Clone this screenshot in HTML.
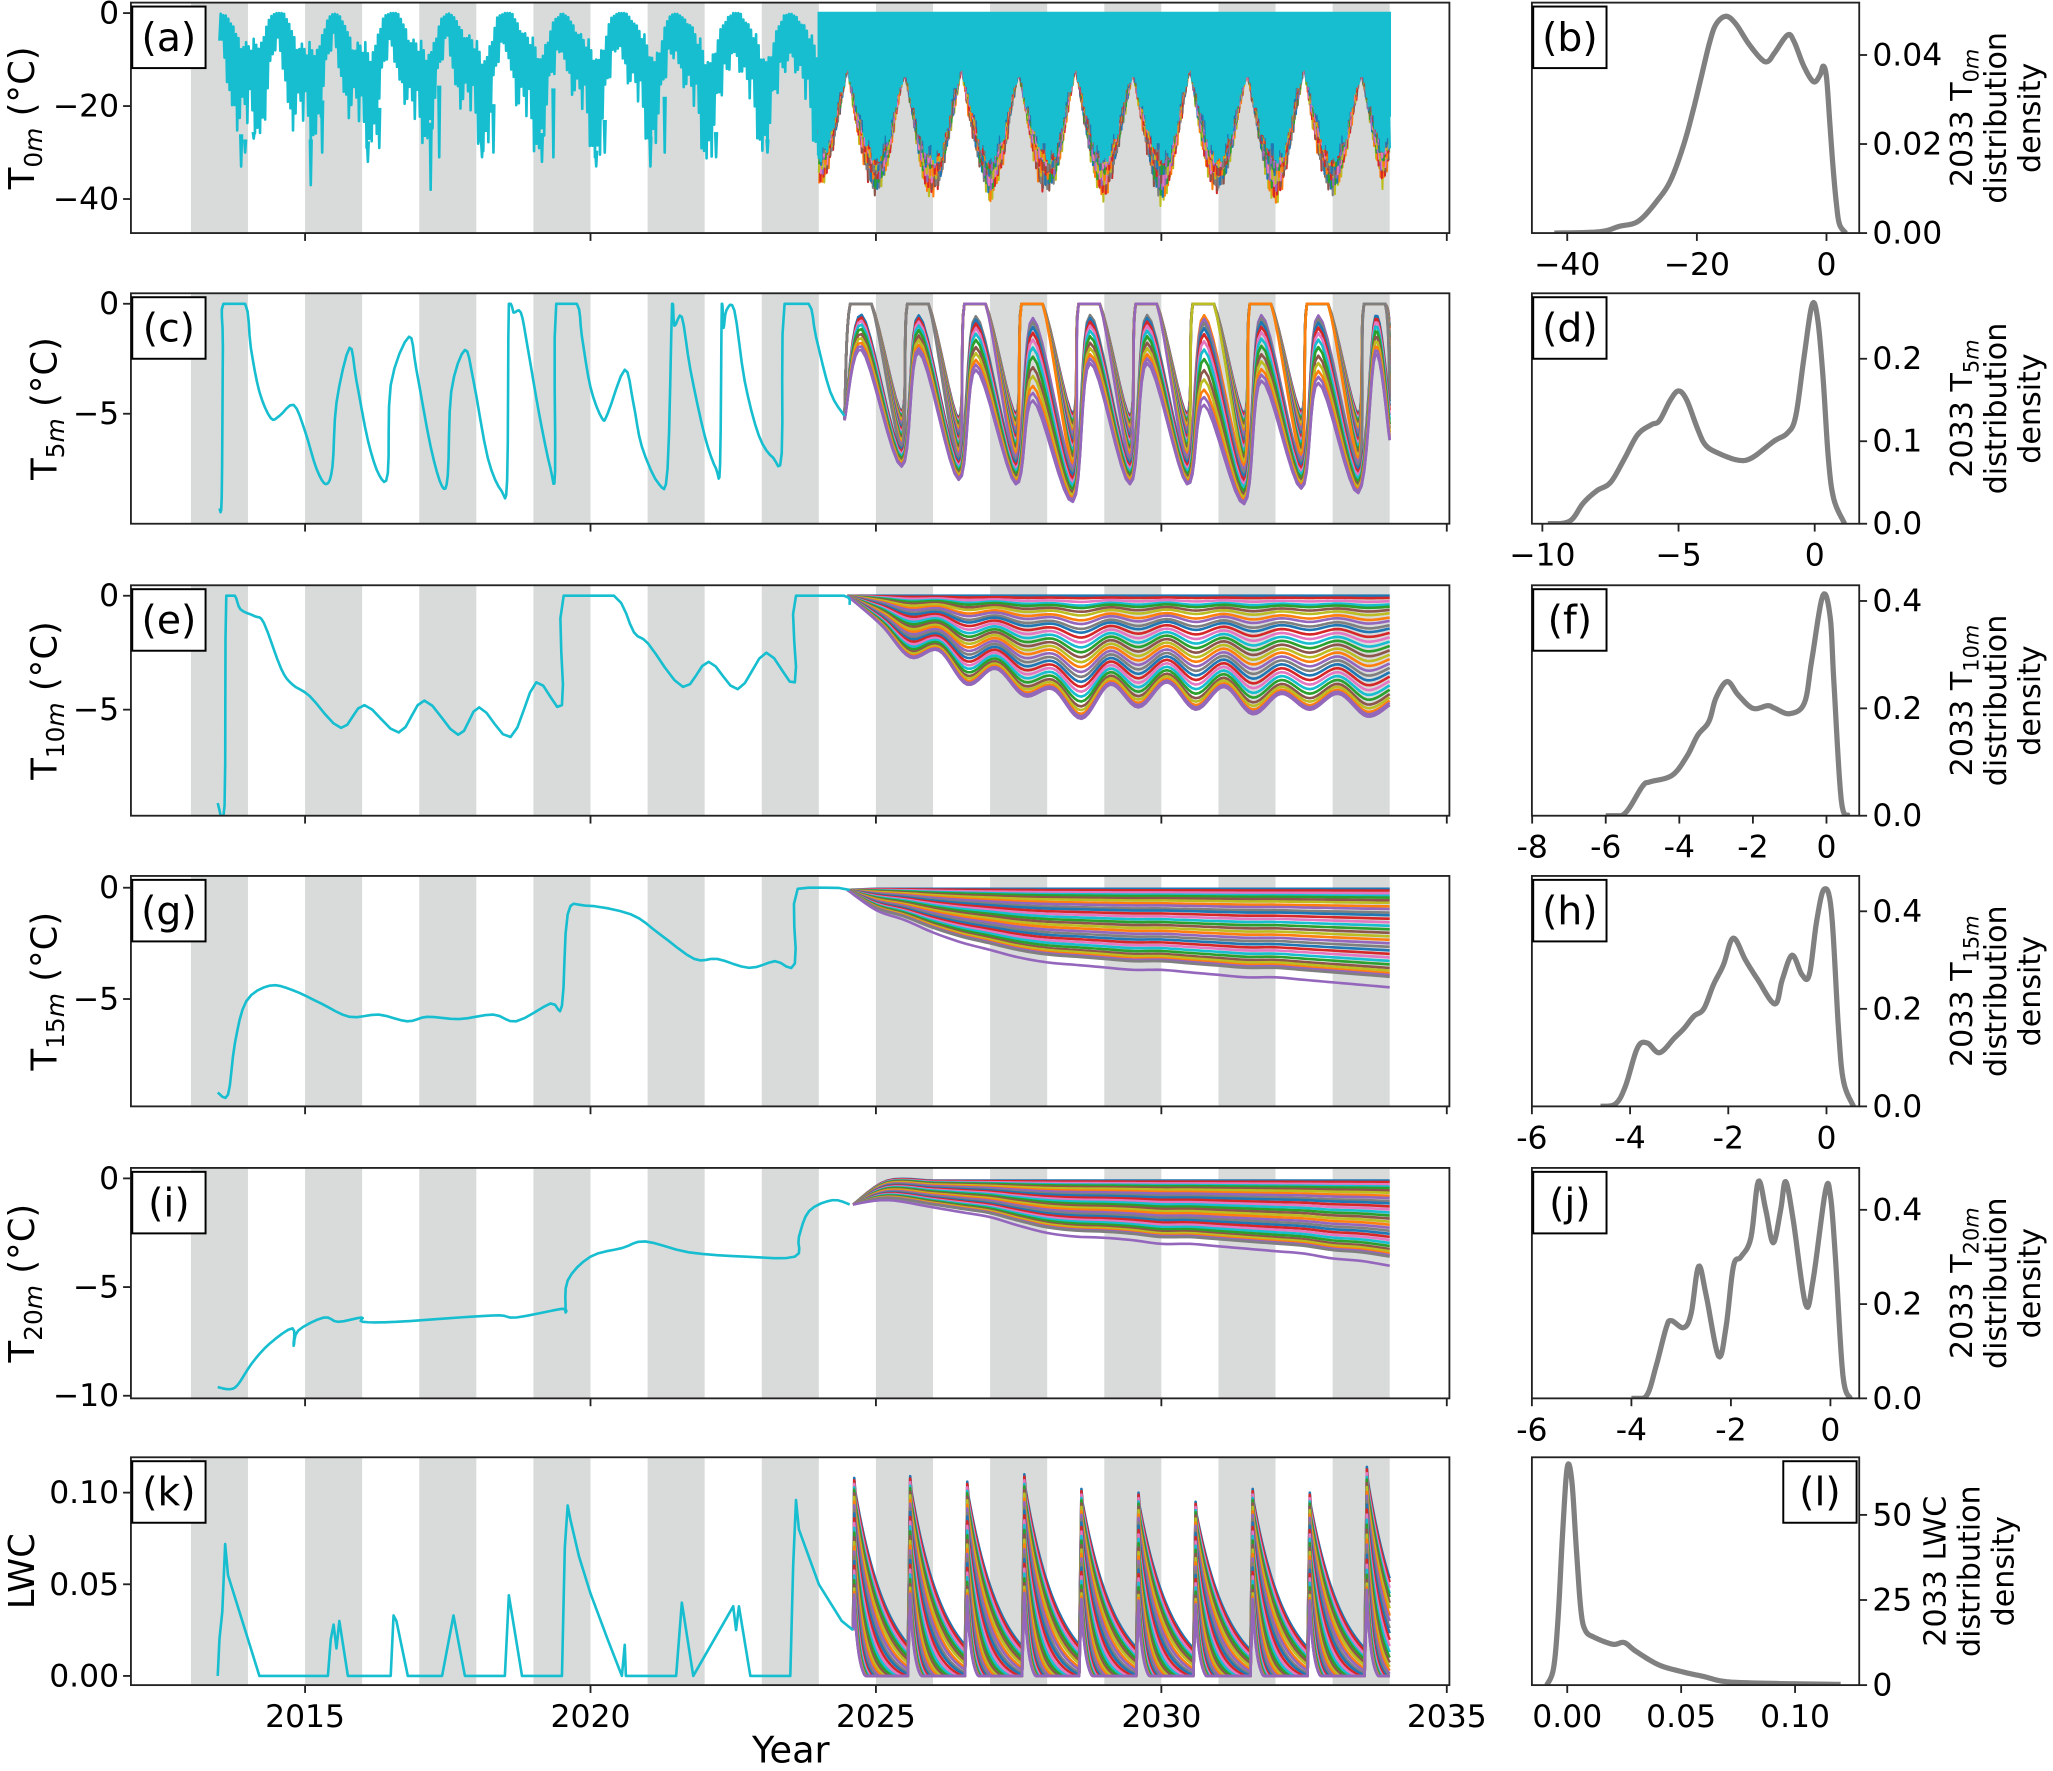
<!DOCTYPE html>
<html><head><meta charset="utf-8">
<style>
html,body{margin:0;padding:0;background:#fff;}
svg{display:block;font-family:"DejaVu Sans","Liberation Sans",sans-serif;}
</style></head>
<body>
<svg id="fig" width="2053" height="1771" viewBox="0 0 1568 1352.6" preserveAspectRatio="none" xmlns="http://www.w3.org/2000/svg"></svg>
<script>
// ---------------- DATA ----------------
const tab10 = ['#1f77b4','#ff7f0e','#2ca02c','#d62728','#9467bd','#8c564b','#e377c2','#7f7f7f','#bcbd22','#17becf'];
const memberRanks = [0,0.02,0.05,0.08,0.1,0.13,0.16,0.2,0.23,0.27,0.3,0.34,0.38,0.42,0.46,0.5,0.54,0.58,0.62,0.66,0.7,0.74,0.78,0.82,0.86,0.9,0.93,0.96,0.98,1.0,1.12];

// Panel a observed band (0.125-yr steps starting 2013.5)
const obsAStart = 2013.5;
const obsAHi = [0,-1,-3,-7,-10,-9,-6,-1, 0,0,-3,-8,-11,-10,-7,-2, 0,-1,-4,-9,-10,-11,-6,-1, 0,0,-3,-8,-10,-10,-7,-2, 0,-1,-4,-7,-10,-11,-7,-1, 0,0,-3,-7,-9,-10,-6,-2, 0,-1,-4,-8,-10,-10,-7,-1, 0,0,-2,-6,-9,-10,-7,-1, 0,-1,-3,-8,-11,-10,-6,-2, 0,0,-3,-7,-10,-10,-6,-1, 0,-1,-4,-8,-10,-9,-6,-1, 0];
const obsALo = [-7,-14,-20,-26,-28,-25,-24,-16, -8,-12,-22,-25,-28,-27,-22,-14, -7,-13,-20,-24,-30,-27,-24,-15, -8,-12,-18,-26,-28,-26,-22,-14, -6,-14,-20,-24,-27,-28,-24,-13, -7,-12,-22,-26,-29,-27,-21,-15, -8,-13,-20,-25,-28,-30,-23,-14, -6,-12,-19,-24,-27,-26,-22,-12, -8,-14,-21,-26,-30,-28,-24,-16, -7,-12,-20,-25,-28,-27,-22,-14, -8,-13,-21,-26,-29,-28,-23,-15, -8];
const obsASpikeYear = [2013.88,2013.95,2014.1,2015.1,2015.3,2016.1,2016.3,2017.2,2017.35,2018.1,2018.3,2019.15,2019.35,2020.1,2020.25,2021.05,2021.3,2022.2,2023.1,2024.05];
const obsASpikeVal = [-33,-30,-27,-37,-30,-32,-29,-38,-31,-31,-30,-32,-31,-33,-30,-33,-30,-31,-30,-35];
// Panel a ensemble band (0.125-yr steps starting 2024.0)
const ensAStart = 2024.0;
const ensAInner = [-28,-27,-22,-16,-11,-16,-22,-26, -29,-27,-23,-16,-12,-17,-23,-27, -28,-28,-22,-15,-11,-16,-22,-27, -29,-27,-23,-16,-12,-17,-22,-26, -28,-28,-22,-16,-11,-16,-23,-27, -29,-27,-22,-15,-12,-17,-22,-26, -28,-28,-23,-16,-11,-16,-22,-27, -29,-27,-22,-16,-12,-17,-23,-26, -28,-28,-22,-15,-11,-16,-22,-27, -29,-27,-23,-16,-12,-17,-22,-27, -26];
const ensAOuter = [-38,-36,-30,-22,-12,-23,-31,-38, -41,-37,-31,-21,-13,-22,-32,-39, -40,-38,-30,-22,-12,-23,-31,-37, -42,-37,-32,-22,-13,-22,-31,-39, -40,-38,-31,-21,-12,-23,-32,-38, -41,-37,-30,-22,-13,-22,-31,-39, -43,-38,-31,-22,-12,-23,-32,-38, -40,-37,-30,-21,-13,-22,-31,-39, -42,-38,-31,-22,-12,-23,-32,-38, -41,-37,-30,-22,-13,-22,-31,-38, -32];

// Panel c
const obsC = [[2013.5,-9.3],[2013.54,-8.8],[2013.56,-2],[2013.57,0],[2013.95,0],[2014.05,-2],[2014.2,-4],[2014.4,-5.2],[2014.55,-5.1],[2014.8,-4.6],[2015.0,-5.8],[2015.2,-7.5],[2015.37,-8.2],[2015.48,-7.4],[2015.55,-4.5],[2015.78,-2.0],[2015.9,-3.5],[2016.1,-6.2],[2016.3,-7.8],[2016.45,-7.7],[2016.5,-3.7],[2016.82,-1.5],[2016.95,-3],[2017.2,-6.5],[2017.4,-8.3],[2017.5,-7.8],[2017.56,-4],[2017.8,-2.1],[2017.95,-3.5],[2018.2,-7],[2018.44,-8.5],[2018.54,-8],[2018.57,0],[2018.65,-0.4],[2018.78,-0.4],[2018.9,-2],[2019.1,-5],[2019.3,-7.5],[2019.38,-7.6],[2019.4,0],[2019.76,0],[2019.85,-1.5],[2020.0,-3.8],[2020.2,-5.2],[2020.3,-5.0],[2020.6,-3.0],[2020.75,-4.5],[2020.9,-6.5],[2021.2,-8.2],[2021.35,-7.5],[2021.43,0],[2021.47,-1.0],[2021.6,-0.6],[2021.75,-3],[2022.0,-6],[2022.2,-7.5],[2022.27,-7.3],[2022.3,0],[2022.33,-1.1],[2022.38,-0.3],[2022.52,-0.3],[2022.7,-3.5],[2022.95,-6],[2023.2,-7],[2023.35,-6.8],[2023.4,0],[2023.82,0],[2023.95,-1.5],[2024.2,-4],[2024.45,-5.1]];
const cTroughShallow = [-4.9,-5.2,-5.0,-5.0,-5.1,-5.0,-5.0,-4.9,-5.0];
const cTroughDeep = [-7.4,-8.0,-8.2,-9.0,-8.2,-8.2,-9.1,-8.4,-8.6];
const cPeakLow = [-2.1,-2.2,-3.0,-4.4,-2.7,-2.7,-4.6,-3.5,-3.6,-2.3];
const cEndShallow = -1.0, cEndDeep = -6.2;

// Panel e
const obsE = [[2013.47,-9.1],[2013.59,-9.2],[2013.62,0],[2013.77,0],[2013.87,-0.6],[2014.12,-0.9],[2014.28,-1.2],[2014.58,-3.2],[2014.78,-3.9],[2015.08,-4.4],[2015.63,-5.8],[2016.04,-4.8],[2016.64,-6.0],[2017.09,-4.6],[2017.68,-6.1],[2018.05,-4.9],[2018.6,-6.2],[2019.05,-3.8],[2019.5,-4.8],[2019.53,0],[2020.41,0],[2020.76,-1.6],[2021.01,-2.1],[2021.62,-4.0],[2022.07,-2.9],[2022.58,-4.1],[2023.08,-2.5],[2023.58,-3.8],[2023.6,0],[2024.44,0],[2024.54,-0.4]];
const eCrestDeep = [-1.3,-2.4,-3.2,-4.1,-3.9,-3.8,-4.0,-4.3,-4.3];
const eTroughDeep = [-2.7,-3.9,-4.4,-5.4,-4.9,-5.0,-5.2,-5.0,-5.3];
const eEndDeep = -4.8;

// Panel g
const obsG = [[2013.47,-9.2],[2013.65,-9.3],[2013.77,-7],[2013.97,-5.1],[2014.38,-4.4],[2014.78,-4.6],[2015.28,-5.2],[2015.78,-5.8],[2016.29,-5.7],[2016.79,-6.0],[2017.14,-5.8],[2017.7,-5.9],[2018.3,-5.7],[2018.7,-6.0],[2019.3,-5.2],[2019.5,-5.3],[2019.6,-1.2],[2019.9,-0.8],[2020.71,-1.2],[2021.22,-2.1],[2021.82,-3.2],[2022.22,-3.2],[2022.78,-3.6],[2023.23,-3.3],[2023.58,-3.4],[2023.63,-0.05],[2024.54,-0.1]];
const gTimes = [2024.5,2025,2025.5,2026,2026.5,2027,2027.5,2028,2028.5,2029,2029.5,2030,2030.5,2031,2031.5,2032,2032.5,2033,2033.5,2034];
const gDeep = [-0.1,-0.9,-1.3,-1.8,-2.2,-2.5,-2.8,-3.0,-3.1,-3.2,-3.3,-3.3,-3.4,-3.5,-3.6,-3.6,-3.7,-3.8,-3.9,-4.0];
const gShallow = -0.05;

// Panel i
const obsI = [[2013.47,-9.6],[2013.67,-9.7],[2013.82,-9.5],[2014.07,-8.5],[2014.38,-7.6],[2014.78,-6.9],[2014.8,-7.7],[2014.88,-7.0],[2015.33,-6.4],[2015.58,-6.6],[2015.99,-6.4],[2016.01,-6.6],[2016.59,-6.6],[2017.7,-6.4],[2018.4,-6.3],[2018.7,-6.4],[2019.5,-6.0],[2019.56,-6.1],[2019.6,-4.7],[2020.0,-3.6],[2020.56,-3.2],[2020.96,-2.9],[2021.72,-3.4],[2022.73,-3.6],[2023.58,-3.6],[2023.65,-2.7],[2023.83,-1.5],[2024.24,-1.0],[2024.54,-1.2]];
const iTimes = [2024.6,2025.2,2026,2026.5,2027,2027.5,2028,2028.5,2029,2029.5,2030,2030.5,2031,2031.5,2032,2032.5,2033,2033.5,2034];
const iDeep = [-1.2,-0.9,-1.2,-1.4,-1.6,-1.95,-2.25,-2.4,-2.45,-2.55,-2.7,-2.7,-2.8,-2.9,-3.0,-3.1,-3.3,-3.4,-3.6];
const iShallow = -0.1;

// Panel k
const obsK = [[2013.47,0],[2013.5,0.02],[2013.55,0.035],[2013.6,0.072],[2013.65,0.055],[2013.8,0.04],[2014.0,0.02],[2014.2,0],[2015.4,0],[2015.45,0.02],[2015.5,0.028],[2015.55,0.015],[2015.6,0.03],[2015.75,0],[2016.5,0],[2016.55,0.033],[2016.6,0.03],[2016.8,0],[2017.4,0],[2017.6,0.033],[2017.8,0],[2018.5,0],[2018.57,0.044],[2018.8,0],[2019.5,0],[2019.55,0.07],[2019.6,0.093],[2019.65,0.085],[2019.8,0.065],[2020.0,0.045],[2020.3,0.02],[2020.55,0],[2020.6,0.017],[2020.62,0],[2021.5,0],[2021.6,0.04],[2021.8,0],[2022.5,0.038],[2022.55,0.025],[2022.6,0.038],[2022.8,0],[2023.5,0],[2023.55,0.06],[2023.6,0.096],[2023.65,0.08],[2024.0,0.05],[2024.4,0.03],[2024.6,0.025]];
const kPeakTimes = [2024.62,2025.6,2026.6,2027.6,2028.6,2029.6,2030.6,2031.6,2032.6,2033.6];
const kPeakMax = [0.108,0.109,0.106,0.110,0.102,0.100,0.095,0.102,0.100,0.114];

// KDE curves (right column)
const kdeB = [[-42,0],[-35,0.0003],[-32,0.0015],[-29,0.0027],[-26,0.0075],[-24,0.012],[-22,0.02],[-20.5,0.028],[-19.5,0.034],[-18,0.043],[-17,0.047],[-15.5,0.0487],[-14,0.047],[-12,0.0425],[-10,0.039],[-9,0.0386],[-8,0.0405],[-6,0.0445],[-5,0.043],[-3.5,0.0375],[-2,0.034],[-1,0.0355],[-0.5,0.0375],[0,0.035],[0.5,0.025],[1,0.015],[1.5,0.007],[2,0.002],[3,0]];
const kdeD = [[-9.8,0],[-9,0.003],[-8.5,0.025],[-8,0.04],[-7.5,0.05],[-7,0.078],[-6.5,0.108],[-6,0.12],[-5.7,0.125],[-5.3,0.15],[-5,0.161],[-4.7,0.15],[-4.3,0.115],[-4,0.095],[-3.5,0.085],[-2.8,0.077],[-2.3,0.08],[-1.5,0.1],[-1,0.11],[-0.7,0.13],[-0.4,0.2],[-0.1,0.265],[0.1,0.25],[0.3,0.18],[0.5,0.08],[0.7,0.03],[1.1,0]];
const kdeF = [[-6,0],[-5.5,0.003],[-5,0.055],[-4.8,0.063],[-4.2,0.075],[-3.8,0.11],[-3.5,0.15],[-3.2,0.175],[-3,0.22],[-2.7,0.25],[-2.4,0.225],[-2.0,0.2],[-1.6,0.205],[-1.4,0.2],[-1.0,0.19],[-0.6,0.21],[-0.4,0.29],[-0.1,0.41],[0.1,0.37],[0.2,0.25],[0.4,0.03],[0.6,0]];
const kdeH = [[-4.6,0],[-4.3,0.005],[-4.1,0.04],[-3.85,0.12],[-3.65,0.13],[-3.4,0.11],[-3.1,0.14],[-2.9,0.16],[-2.7,0.185],[-2.5,0.2],[-2.3,0.25],[-2.1,0.29],[-1.9,0.345],[-1.65,0.3],[-1.4,0.26],[-1.05,0.21],[-0.9,0.26],[-0.7,0.31],[-0.5,0.27],[-0.35,0.27],[-0.2,0.38],[-0.05,0.445],[0.1,0.4],[0.25,0.15],[0.35,0.05],[0.55,0]];
const kdeJ = [[-4,0],[-3.7,0.005],[-3.5,0.07],[-3.3,0.15],[-3.2,0.165],[-2.95,0.15],[-2.8,0.18],[-2.65,0.28],[-2.5,0.22],[-2.25,0.09],[-2.1,0.15],[-1.95,0.28],[-1.8,0.3],[-1.6,0.34],[-1.45,0.46],[-1.3,0.4],[-1.15,0.33],[-1.0,0.4],[-0.9,0.46],[-0.75,0.38],[-0.5,0.2],[-0.35,0.25],[-0.1,0.44],[0,0.43],[0.1,0.3],[0.25,0.05],[0.4,0]];
const kdeL = [[-0.009,0],[-0.006,5],[-0.004,20],[-0.002,45],[0,64],[0.002,60],[0.004,40],[0.006,22],[0.008,16],[0.012,14],[0.02,12],[0.025,12.5],[0.03,10],[0.04,6],[0.05,4],[0.06,2.5],[0.07,1],[0.09,0.5],[0.12,0.2]];

// ---------------- RENDER ----------------
const NS='http://www.w3.org/2000/svg';
const svg=document.getElementById('fig');
function el(tag,attrs,parent){const e=document.createElementNS(NS,tag);for(const k in attrs)e.setAttribute(k,attrs[k]);(parent||svg).appendChild(e);return e;}
const XL=100, XR=1107;
function xYear(t){return 233+(t-2015)*43.6;}
const left=[
 {id:'a',top:2,bot:178,y0:10,k:3.55,ticks:[0,-20,-40],lab:['0','\u221220','\u221240'],name:'T',sub:'0m',lx:26},
 {id:'c',top:224,bot:400,y0:232,k:16.8,ticks:[0,-5],lab:['0','\u22125'],name:'T',sub:'5m',lx:43},
 {id:'e',top:447,bot:623,y0:455,k:17.4,ticks:[0,-5],lab:['0','\u22125'],name:'T',sub:'10m',lx:43},
 {id:'g',top:669,bot:845,y0:678,k:17.0,ticks:[0,-5],lab:['0','\u22125'],name:'T',sub:'15m',lx:43},
 {id:'i',top:892,bot:1068,y0:900,k:16.6,ticks:[0,-5,-10],lab:['0','\u22125','\u221210'],name:'T',sub:'20m',lx:26},
 {id:'k',top:1113,bot:1287,y0:1280,k:1400,ticks:[0,0.05,0.10],lab:['0.00','0.05','0.10'],name:'LWC',sub:'',lx:26}
];
function yv(p,v){return p.y0 - v*p.k;}
function crSample(pts,n){
 const out=[];
 for(let i=0;i<pts.length-1;i++){
  const p0=pts[Math.max(0,i-1)],p1=pts[i],p2=pts[i+1],p3=pts[Math.min(pts.length-1,i+2)];
  for(let s=0;s<n;s++){const t=s/n,t2=t*t,t3=t2*t;
   const f=(a,b,c,d)=>0.5*((2*b)+(-a+c)*t+(2*a-5*b+4*c-d)*t2+(-a+3*b-3*c+d)*t3);
   out.push([f(p0[0],p1[0],p2[0],p3[0]),f(p0[1],p1[1],p2[1],p3[1])]);}
 }
 out.push(pts[pts.length-1]);return out;
}
function lerpArr(arr,start,t){const f=(t-start)/0.125;const i=Math.max(0,Math.min(arr.length-2,Math.floor(f)));const u=Math.min(1,Math.max(0,f-i));return arr[i]+(arr[i+1]-arr[i])*u;}
function pathD(pts,fx,fy){return pts.map((p,i)=>(i?'L':'M')+fx(p[0]).toFixed(2)+','+fy(p[1]).toFixed(2)).join('');}
const zig=[1,0.72,1.06,0.85,0.95,0.6,1.1,0.8,0.9,1.03,0.68];

left.forEach((p,pi)=>{
 const g=el('g',{});
 
 
 const cp=el('clipPath',{id:'clip'+p.id},g); el('rect',{x:XL,y:p.top,width:XR-XL,height:p.bot-p.top},cp);
 for(let yr=2013;yr<=2033;yr+=2){
  const r=el('rect',{x:xYear(yr),y:p.top,width:43.6,height:p.bot-p.top,fill:'#d9dbdb'},g);
  
  
 }
 const dg=el('g',{'clip-path':'url(#clip'+p.id+')'},g);
 
 
 const fx=xYear, fy=v=>yv(p,v);
 const line=(pts,col,w)=>{const e=el('path',{d:pathD(pts,fx,fy),fill:'none',stroke:col,'stroke-width':w||2,'stroke-linejoin':'round'},dg);return e;};
 const ci=(i,r)=>r>1?'#9467bd':tab10[(i*3)%10];
 const smooth=pts=>crSample(pts,4).map(q=>[q[0],Math.min(0,q[1])]);
 if(p.id==='a'){
  const oEnd=obsAStart+(obsAHi.length-1)*0.125;
  const oz=[];let n=0;
  for(let t=obsAStart;t<=oEnd;t+=1/45,n++){
   const hi=lerpArr(obsAHi,obsAStart,t), lo=lerpArr(obsALo,obsAStart,t);
   oz.push([t, n%2? hi*zig[n%11] : lo*zig[(n+3)%11]]);
  }
  line(oz,'#17becf',2);
  obsASpikeYear.forEach((t,i)=>{const lo=lerpArr(obsALo,obsAStart,t);
   line([[t-0.015,lo],[t,obsASpikeVal[i]],[t+0.015,lo]],'#17becf',2);});
  const eEnd=ensAStart+(ensAInner.length-1)*0.125;
  const order=memberRanks.slice(0,24).map((r,i)=>[r,i]).sort((a,b)=>b[0]-a[0]);
  order.forEach(([r,i])=>{
   const pts=[];let m=i*3;
   for(let t=ensAStart+(i%7)*0.006;t<=eEnd;t+=1/36,m++){
    const a=lerpArr(ensAInner,ensAStart,t), b=lerpArr(ensAOuter,ensAStart,t);
    const f=Math.min(1,0.25+r*0.8)*zig[m%11];
    pts.push([t, m%2? a*0.9 : a+(b-a)*Math.min(1.05,f)]);
   }
   line(pts,tab10[(i*7)%9],1.6);
  });
  const e1=[];for(let t=ensAStart;t<=eEnd+1e-6;t+=1/40){e1.push([t,lerpArr(ensAInner,ensAStart,t)*0.85]);}
  const e0=[[ensAStart,0],[eEnd,0]];
  const eb=el('path',{d:pathD(e0.concat(e1.slice().reverse()),fx,fy)+'Z',fill:'#17becf',stroke:'#17becf','stroke-width':2},dg);
  
  
  // jagged cyan lower edge
  const ez=[];n=0;
  for(let t=ensAStart;t<=eEnd;t+=1/55,n++){
   const a=lerpArr(ensAInner,ensAStart,t);
   ez.push([t, n%2? a*0.7 : a*(0.85+0.3*zig[(n*3)%11]*0.9)]);
  }
  line(ez,'#17becf',2);
 }
 if(p.id==='c'){
  memberRanks.forEach((r0,i)=>{const r=Math.min(1,r0);
   const pts=[[2024.45,-5.0-r*0.3]];
   for(let j=0;j<10;j++){const y=2024+j;const pk=cPeakLow[j]*Math.pow(r,4);
    if(pk>-0.5){pts.push([y+0.55,0]);pts.push([y+0.92,0]);} else pts.push([y+0.75,pk]);
    if(j<9) pts.push([y+1.45,cTroughShallow[j]+r*(cTroughDeep[j]-cTroughShallow[j])]);}
   pts.push([2034.0,cEndShallow+r*(cEndDeep-cEndShallow)]);
   line(crSample(pts,8).map(q=>[q[0],Math.min(0,q[1])]),ci(i,r0),2);
  });
  line(smooth(obsC),'#17becf',2);
 }
 if(p.id==='e'){
  memberRanks.forEach((r0,i)=>{const r=Math.min(1,r0);
   const pts=[[2024.5,0]];
   for(let j=0;j<9;j++){pts.push([2025.1+j,r*eCrestDeep[j]]);pts.push([2025.6+j,r*eTroughDeep[j]]);}
   pts.push([2034.0,r*eEndDeep]);
   line(crSample(pts,8).map(q=>[q[0],Math.min(0,q[1])]),ci(i,r0),2);
  });
  line(smooth(obsE),'#17becf',2);
 }
 if(p.id==='g'){
  memberRanks.forEach((r,i)=>{
   const pts=gTimes.map((t,j)=>[t,j===0?gDeep[0]:gShallow+r*(gDeep[j]-gShallow)]);
   line(crSample(pts,6).map(q=>[q[0],Math.min(0,q[1])]),ci(i,r),2);
  });
  line(smooth(obsG),'#17becf',2);
 }
 if(p.id==='i'){
  memberRanks.forEach((r,i)=>{
   const pts=iTimes.map((t,j)=>[t,j===0?iDeep[0]:iShallow+r*(iDeep[j]-iShallow)]);
   line(crSample(pts,6).map(q=>[q[0],Math.min(0,q[1])]),ci(i,r),2);
  });
  line(smooth(obsI),'#17becf',2);
 }
 if(p.id==='k'){
  memberRanks.forEach((r0,i)=>{const r=Math.min(1,r0);
   const pts=[[2024.6,0.025]];
   kPeakTimes.forEach((t0,j)=>{
    const pk=kPeakMax[j]*(1-0.6*r), tau=0.08+0.5*(1-r)*(1-r);
    const tEnd=j<kPeakTimes.length-1?kPeakTimes[j+1]-0.03:2034.0;
    pts.push([t0,pk]);
    for(let t=t0+0.02;t<=tEnd+1e-6;t+=0.02){pts.push([t,Math.max(0,pk*Math.exp(-(t-t0)/tau)-0.004)]);}
   });
   line(pts,ci(i,r0),2);
  });
  line(obsK,'#17becf',2);
 }
 const fr=el('rect',{x:XL,y:p.top,width:XR-XL,height:p.bot-p.top,fill:'none',stroke:'#222','stroke-width':1.4},g);
 
 
 p.ticks.forEach((v,i)=>{const y=yv(p,v);
  el('line',{x1:XL-6,x2:XL,y1:y,y2:y,stroke:'#222','stroke-width':1.4},g);
  const t=el('text',{x:XL-9,y:y+8,'font-size':24,'text-anchor':'end',fill:'#000'},g);t.textContent=p.lab[i];
  
  
 });
 for(let yr=2015;yr<=2035;yr+=5){const x=xYear(yr);
  el('line',{x1:x,x2:x,y1:p.bot,y2:p.bot+6,stroke:'#222','stroke-width':1.4},g);
  if(p.id==='k'){const t=el('text',{x:x,y:p.bot+32,'font-size':24,'text-anchor':'middle'},g);t.textContent=String(yr);
   
   }
 }
 const bx=el('rect',{x:XL+1,y:p.top+3,width:56,height:47,fill:'#fff',stroke:'#000','stroke-width':1.5},g);
 
 
 const lt=el('text',{x:XL+29,y:p.top+37,'font-size':30,'text-anchor':'middle'},g);lt.textContent='('+p.id+')';
 
 
 const cy=(p.top+p.bot)/2;
 const yt=el('text',{x:0,y:0,'font-size':27,'text-anchor':'middle',transform:`translate(${p.lx},${cy}) rotate(-90)`},g);
 
 
 if(p.sub){
  const a=el('tspan',{},yt);a.textContent='T';
  const b=el('tspan',{'font-size':19,dy:6},yt);b.textContent=p.sub.replace('m','');
  const c=el('tspan',{'font-size':19,'font-style':'italic'},yt);c.textContent='m';
  const d=el('tspan',{dy:-6},yt);d.textContent=' (\u00b0C)';
 } else yt.textContent=p.name;
});
const xt=el('text',{x:604,y:1346,'font-size':28,'text-anchor':'middle'});xt.textContent='Year';



const RL=1170, RR=1420;
const right=[
 {id:'b',top:2,bot:178,x0:1395,kx:4.95,xt:[-40,-20,0],xl:['\u221240','\u221220','0'],y0:178,ky:3400,yt:[0,0.02,0.04],yl:['0.00','0.02','0.04'],data:kdeB,sub:'0m',box:'left'},
 {id:'d',top:224,bot:400,x0:1386,kx:20.8,xt:[-10,-5,0],xl:['\u221210','\u22125','0'],y0:400,ky:630,yt:[0,0.1,0.2],yl:['0.0','0.1','0.2'],data:kdeD,sub:'5m',box:'left'},
 {id:'f',top:447,bot:623,x0:1395,kx:28.1,xt:[-8,-6,-4,-2,0],xl:['-8','-6','-4','-2','0'],y0:623,ky:410,yt:[0,0.2,0.4],yl:['0.0','0.2','0.4'],data:kdeF,sub:'10m',box:'left'},
 {id:'h',top:669,bot:845,x0:1395,kx:37.5,xt:[-6,-4,-2,0],xl:['-6','-4','-2','0'],y0:845,ky:372.5,yt:[0,0.2,0.4],yl:['0.0','0.2','0.4'],data:kdeH,sub:'15m',box:'left'},
 {id:'j',top:892,bot:1068,x0:1398,kx:38,xt:[-6,-4,-2,0],xl:['-6','-4','-2','0'],y0:1068,ky:360,yt:[0,0.2,0.4],yl:['0.0','0.2','0.4'],data:kdeJ,sub:'20m',box:'left'},
 {id:'l',top:1113,bot:1287,x0:1197,kx:1740,xt:[0,0.05,0.10],xl:['0.00','0.05','0.10'],y0:1287,ky:2.6,yt:[0,25,50],yl:['0','25','50'],data:kdeL,sub:'',box:'right'}
];
right.forEach(p=>{
 const g=el('g',{});
 
 
 const cp=el('clipPath',{id:'clipr'+p.id},g); el('rect',{x:RL,y:p.top,width:RR-RL,height:p.bot-p.top},cp);
 const fx=v=>p.x0+v*p.kx, fy=v=>p.y0-v*p.ky;
 const pts=crSample(p.data,8).map(q=>[q[0],Math.max(0,q[1])]);
 const c=el('path',{d:pathD(pts,fx,fy),fill:'none',stroke:'#808080','stroke-width':4,'stroke-linejoin':'round','clip-path':'url(#clipr'+p.id+')'},g);
 
 
 const fr=el('rect',{x:RL,y:p.top,width:RR-RL,height:p.bot-p.top,fill:'none',stroke:'#222','stroke-width':1.4},g);
 
 
 p.xt.forEach((v,i)=>{const x=fx(v);
  el('line',{x1:x,x2:x,y1:p.bot,y2:p.bot+6,stroke:'#222','stroke-width':1.4},g);
  const t=el('text',{x:x,y:p.bot+32,'font-size':24,'text-anchor':'middle'},g);t.textContent=p.xl[i];
  
  
 });
 p.yt.forEach((v,i)=>{const y=fy(v);
  el('line',{x1:RR,x2:RR+6,y1:y,y2:y,stroke:'#222','stroke-width':1.4},g);
  const t=el('text',{x:RR+10,y:y+8,'font-size':24,'text-anchor':'start'},g);t.textContent=p.yl[i];
  
  
 });
 const bxX=p.box==='left'?RL+1:RR-58;
 const bx=el('rect',{x:bxX,y:p.top+3,width:56,height:47,fill:'#fff',stroke:'#000','stroke-width':1.5},g);
 
 
 const lt=el('text',{x:bxX+28,y:p.top+37,'font-size':30,'text-anchor':'middle'},g);lt.textContent='('+p.id+')';
 
 
 const cy=(p.top+p.bot)/2;
 const base=p.id==='l'?1478:1498;
 const lines=p.sub?['2033 T','distribution','density']:['2033 LWC','distribution','density'];
 lines.forEach((s,i)=>{
  const t=el('text',{x:0,y:0,'font-size':23,'text-anchor':'middle',transform:`translate(${base+i*26+8},${cy}) rotate(-90)`},g);
  
  
  if(i===0&&p.sub){const a=el('tspan',{},t);a.textContent=s;
   const b=el('tspan',{'font-size':16,dy:5},t);b.textContent=p.sub.replace('m','');
   const c2=el('tspan',{'font-size':16,'font-style':'italic'},t);c2.textContent='m';}
  else t.textContent=s;
 });
});
</script>
</body></html>
